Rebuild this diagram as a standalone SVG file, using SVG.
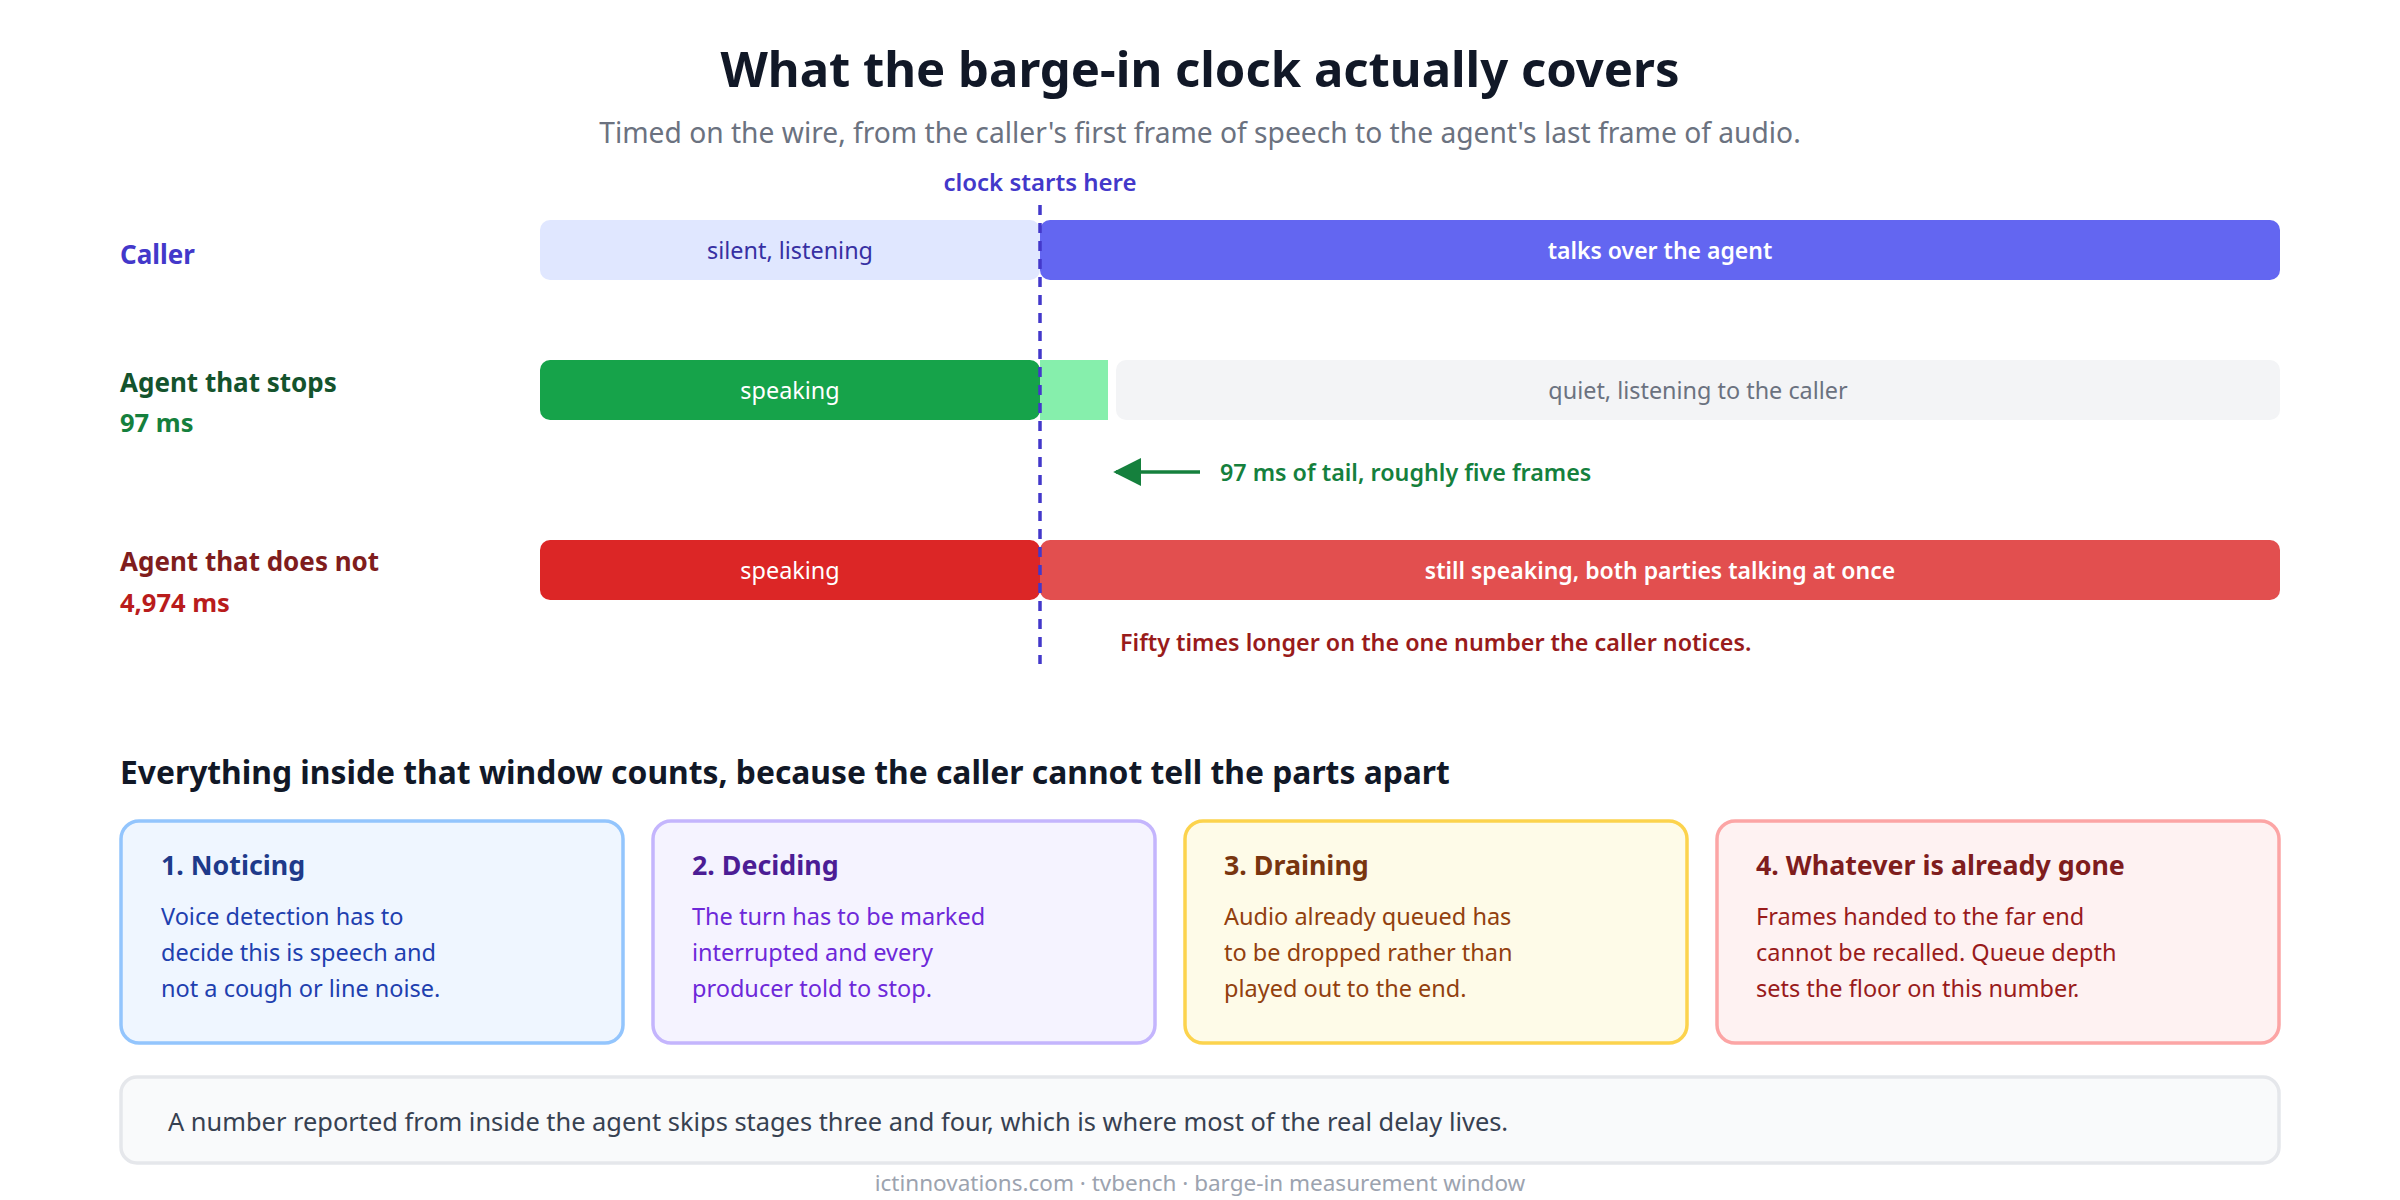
<svg xmlns="http://www.w3.org/2000/svg" width="2400" height="1200" viewBox="0 0 2400 1200">
<style>
text{font-family:"Noto Sans","Open Sans","Liberation Sans",sans-serif}
.title{font-size:49px;font-weight:700;fill:#111827}
.sub{font-size:28.2px;fill:#6b7280}
.lbl{font-size:26px;font-weight:700}
.val{font-size:25.5px;font-weight:700}
.bar{font-size:23.4px}
.barb{font-size:23px;font-weight:600;fill:#ffffff}
.note{font-size:23.3px;font-weight:600}
.h2{font-size:31.8px;font-weight:700;fill:#111827}
.ct{font-size:26.8px;font-weight:700}
.cb{font-size:23.5px}
.foot{font-size:22.5px;fill:#9ca3af}
</style>
<defs>
<marker id="ah" viewBox="0 0 10 10" refX="9" refY="5" markerWidth="28" markerHeight="28" markerUnits="userSpaceOnUse" orient="auto"><path d="M0,0 L10,5 L0,10 z" fill="#15803d"/></marker>
</defs>
<rect width="2400" height="1200" fill="#ffffff"/>
<text class="title" x="1200" y="87" text-anchor="middle">What the barge-in clock actually covers</text>
<text class="sub" x="1200" y="143" text-anchor="middle">Timed on the wire, from the caller's first frame of speech to the agent's last frame of audio.</text>

<g id="row-caller">
<text class="lbl" x="120" y="264" fill="#4338ca">Caller</text>
<rect x="540" y="220" width="500" height="60" rx="10" fill="#e0e7ff"/>
<text class="bar" x="790" y="259" text-anchor="middle" fill="#3730a3">silent, listening</text>
<rect x="1040" y="220" width="1240" height="60" rx="10" fill="#6366f1"/>
<text class="barb" x="1660" y="259" text-anchor="middle">talks over the agent</text>
</g>

<g id="row-stops">
<text class="lbl" x="120" y="391.5" fill="#14532d">Agent that stops</text>
<text class="val" x="120" y="432" fill="#15803d">97 ms</text>
<rect x="540" y="360" width="500" height="60" rx="10" fill="#16a34a"/>
<text class="bar" x="790" y="399" text-anchor="middle" fill="#ffffff">speaking</text>
<rect x="1040" y="360" width="68" height="60" fill="#86efac"/>
<rect x="1116" y="360" width="1164" height="60" rx="10" fill="#f3f4f6"/>
<text class="bar" x="1698" y="399" text-anchor="middle" fill="#6b7280">quiet, listening to the caller</text>
</g>

<g id="row-not">
<text class="lbl" x="120" y="571" fill="#7f1d1d">Agent that does not</text>
<text class="val" x="120" y="612" fill="#b91c1c">4,974 ms</text>
<rect x="540" y="540" width="500" height="60" rx="10" fill="#dc2626"/>
<text class="bar" x="790" y="579" text-anchor="middle" fill="#ffffff">speaking</text>
<rect x="1040" y="540" width="1240" height="60" rx="10" fill="#e24f4f"/>
<text class="barb" x="1660" y="579" text-anchor="middle">still speaking, both parties talking at once</text>
</g>

<g id="connectors">
<line x1="1040" y1="205" x2="1040" y2="664" stroke="#4338ca" stroke-width="3.5" stroke-dasharray="10 8"/>
<line x1="1200" y1="472" x2="1116" y2="472" stroke="#15803d" stroke-width="3.5" marker-end="url(#ah)"/>
</g>
<text class="note" x="1040" y="191" text-anchor="middle" fill="#4338ca" style="font-size:24px">clock starts here</text>
<text class="note" x="1220" y="481" fill="#15803d">97 ms of tail, roughly five frames</text>
<text class="note" x="1120" y="651" fill="#991b1b">Fifty times longer on the one number the caller notices.</text>

<text class="h2" x="120" y="784">Everything inside that window counts, because the caller cannot tell the parts apart</text>

<g id="card1">
<rect x="121" y="821" width="502" height="222" rx="18" fill="#eff6ff" stroke="#93c5fd" stroke-width="3.5"/>
<text class="ct" x="161" y="875" fill="#1e3a8a">1. Noticing</text>
<text class="cb" fill="#1e40af"><tspan x="161" y="924.5">Voice detection has to</tspan><tspan x="161" y="960.5">decide this is speech and</tspan><tspan x="161" y="996.5">not a cough or line noise.</tspan></text>
</g>
<g id="card2">
<rect x="653" y="821" width="502" height="222" rx="18" fill="#f5f3ff" stroke="#c4b5fd" stroke-width="3.5"/>
<text class="ct" x="692" y="875" fill="#4c1d95">2. Deciding</text>
<text class="cb" fill="#6d28d9"><tspan x="692" y="924.5">The turn has to be marked</tspan><tspan x="692" y="960.5">interrupted and every</tspan><tspan x="692" y="996.5">producer told to stop.</tspan></text>
</g>
<g id="card3">
<rect x="1185" y="821" width="502" height="222" rx="18" fill="#fefbe8" stroke="#fcd34d" stroke-width="3.5"/>
<text class="ct" x="1224" y="875" fill="#78350f">3. Draining</text>
<text class="cb" fill="#92400e"><tspan x="1224" y="924.5">Audio already queued has</tspan><tspan x="1224" y="960.5">to be dropped rather than</tspan><tspan x="1224" y="996.5">played out to the end.</tspan></text>
</g>
<g id="card4">
<rect x="1717" y="821" width="562" height="222" rx="18" fill="#fef2f2" stroke="#fca5a5" stroke-width="3.5"/>
<text class="ct" x="1756" y="875" fill="#7f1d1d">4. Whatever is already gone</text>
<text class="cb" fill="#991b1b"><tspan x="1756" y="924.5">Frames handed to the far end</tspan><tspan x="1756" y="960.5">cannot be recalled. Queue depth</tspan><tspan x="1756" y="996.5">sets the floor on this number.</tspan></text>
</g>

<g id="summary">
<rect x="121" y="1077" width="2158" height="86" rx="16" fill="#f9fafb" stroke="#e5e7eb" stroke-width="3.5"/>
<text x="168" y="1131" fill="#374151" style="font-size:25.4px">A number reported from inside the agent skips stages three and four, which is where most of the real delay lives.</text>
</g>
<text class="foot" x="1200" y="1191" text-anchor="middle">ictinnovations.com · tvbench · barge-in measurement window</text>
</svg>
